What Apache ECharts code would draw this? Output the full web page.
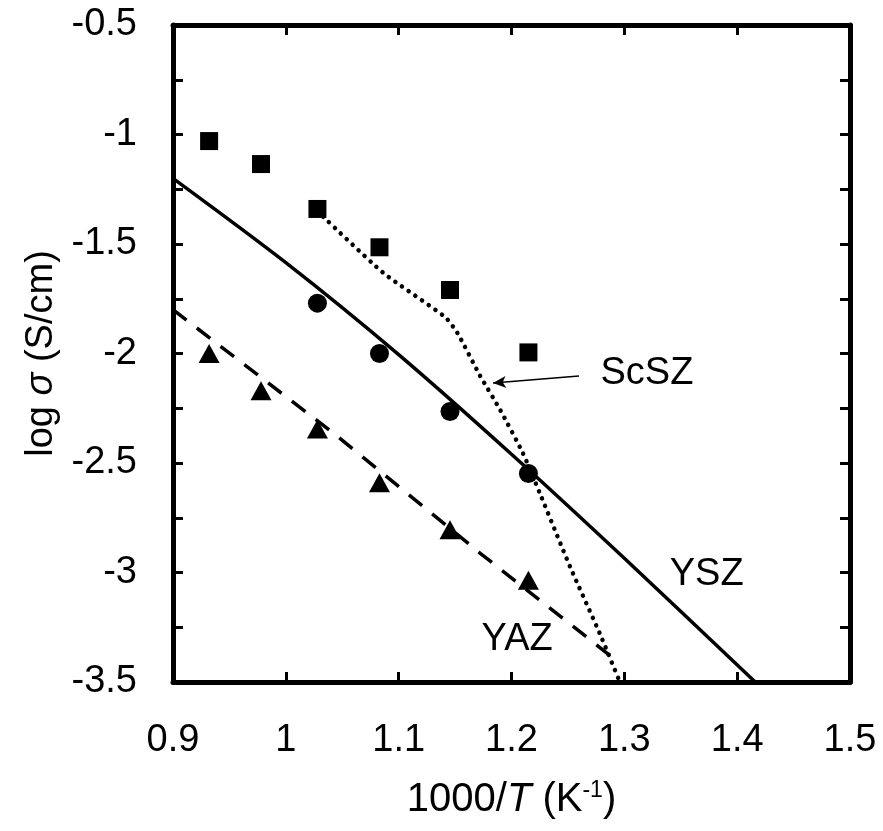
<!DOCTYPE html>
<html>
<head>
<meta charset="utf-8">
<script src="https://cdn.jsdelivr.net/npm/echarts@6/dist/echarts.min.js"></script>
<style>
  html, body { margin: 0; padding: 0; background: #fff; }
  #chart { width: 883px; height: 831px; }
</style>
</head>
<body>
<div id="chart"></div>
<script>
// measured points, x = 1000/T (K^-1)
var invT = [0.932, 0.978, 1.028, 1.083, 1.1455, 1.215];
var scszPts = [-1.03, -1.135, -1.34, -1.515, -1.71, -1.995];
var yszX = [1.028, 1.083, 1.1455, 1.215];
var yszPts = [-1.77, -2.0, -2.265, -2.548];
var yazPts = [-2.0, -2.17, -2.345, -2.59, -2.805, -3.035];

// fitted curves
var yszLineX = [0.9, 1.0, 1.1, 1.2, 1.3, 1.416];
var yszLineY = [-1.2, -1.585, -2.005, -2.46, -2.935, -3.5];
var yazLineX = [0.9, 1.042, 1.172, 1.29];
var yazLineY = [-1.8, -2.363, -2.911, -3.39];
var scszLineX = [1.028, 1.086, 1.141, 1.152, 1.172, 1.19, 1.21, 1.225, 1.252, 1.278, 1.296];
var scszLineY = [-1.35, -1.63, -1.833, -1.906, -2.1, -2.258, -2.454, -2.637, -2.975, -3.276, -3.5];

// text labels
var labelNames = ['ScSZ', 'YSZ', 'YAZ'];
var labelX = [1.32, 1.373, 1.205];
var labelY = [-2.09, -3.011, -3.308];
var arrowFrom = [1.2598, -2.103];
var arrowTo = [1.1836, -2.135];

function zip(xs, ys) {
  return xs.map(function (x, i) { return [x, ys[i]]; });
}

var FONT = 'Liberation Sans, Arial, sans-serif';
var FS = 38;

var chart = echarts.init(document.getElementById('chart'));

var option = {
  animation: false,
  backgroundColor: '#fff',
  textStyle: { fontFamily: FONT, color: '#000' },
  grid: { left: 173, top: 25, right: 33, bottom: 149 },
  xAxis: [
    {
      type: 'value', min: 0.9, max: 1.5, interval: 0.1, position: 'bottom',
      axisLine: { lineStyle: { color: '#000', width: 5 } },
      axisTick: { inside: true, length: 10, lineStyle: { color: '#000', width: 3 } },
      axisLabel: { color: '#000', fontSize: FS, fontFamily: FONT, margin: 40, showMinLabel: true, showMaxLabel: true },
      splitLine: { show: false },
      name: '{n|1000/}{i|T}{n| (K}{s|-1}{n|)}',
      nameLocation: 'middle', nameGap: 97,
      nameTextStyle: {
        rich: {
          n: { fontSize: 40, fontFamily: FONT, color: '#000', lineHeight: 42 },
          i: { fontSize: 40, fontFamily: FONT, color: '#000', fontStyle: 'italic', lineHeight: 42 },
          s: { fontSize: 23, fontFamily: FONT, color: '#000', lineHeight: 23, verticalAlign: 'top' }
        }
      }
    },
    {
      type: 'value', min: 0.9, max: 1.5, interval: 0.1, position: 'top',
      axisLine: { lineStyle: { color: '#000', width: 5 } },
      axisTick: { inside: true, length: 10, lineStyle: { color: '#000', width: 3 } },
      axisLabel: { show: false },
      splitLine: { show: false }
    }
  ],
  yAxis: [
    {
      type: 'value', min: -3.5, max: -0.5, interval: 0.25, position: 'left',
      axisLine: { lineStyle: { color: '#000', width: 5 } },
      axisTick: { inside: true, length: 10, lineStyle: { color: '#000', width: 3 } },
      axisLabel: {
        color: '#000', fontSize: FS, fontFamily: FONT, margin: 36,
        showMinLabel: true, showMaxLabel: true,
        formatter: function (v) {
          return Math.abs(v * 2 - Math.round(v * 2)) < 1e-6 ? String(v) : '';
        }
      },
      splitLine: { show: false },
      name: '{n|log }{i|σ}{n| (S/cm)}',
      nameLocation: 'middle', nameGap: 112, nameRotate: 90,
      nameTextStyle: {
        rich: {
          n: { fontSize: FS, fontFamily: FONT, color: '#000' },
          i: { fontSize: FS, fontFamily: FONT, color: '#000', fontStyle: 'italic' }
        }
      }
    },
    {
      type: 'value', min: -3.5, max: -0.5, interval: 0.25, position: 'right',
      axisLine: { lineStyle: { color: '#000', width: 5 } },
      axisTick: { inside: true, length: 10, lineStyle: { color: '#000', width: 3 } },
      axisLabel: { show: false },
      splitLine: { show: false }
    }
  ],
  series: [
    {
      // YSZ fit
      type: 'line', data: zip(yszLineX, yszLineY), smooth: 0.3,
      showSymbol: false, symbol: 'none',
      lineStyle: { color: '#000', width: 3.5 }, z: 3
    },
    {
      // YAZ fit
      type: 'line', data: zip(yazLineX, yazLineY),
      showSymbol: false, symbol: 'none',
      lineStyle: { color: '#000', width: 3.5, type: [17, 13] }, z: 3
    },
    {
      // ScSZ fit
      type: 'line', data: zip(scszLineX, scszLineY), smooth: 0.2,
      showSymbol: false, symbol: 'none',
      lineStyle: { color: '#000', width: 4.5, type: [0.1, 8], cap: 'round' }, z: 3
    },
    {
      type: 'scatter', data: zip(invT, scszPts), symbol: 'rect', symbolSize: 18,
      itemStyle: { color: '#000', opacity: 1 }, z: 4
    },
    {
      type: 'scatter', data: zip(yszX, yszPts), symbol: 'circle', symbolSize: 19,
      itemStyle: { color: '#000', opacity: 1 }, z: 4
    },
    {
      type: 'scatter', data: zip(invT, yazPts), symbol: 'triangle', symbolSize: [21, 19],
      itemStyle: { color: '#000', opacity: 1 }, z: 4
    },
    {
      // annotations
      type: 'scatter', symbolSize: 0, silent: true,
      itemStyle: { color: '#000', opacity: 1 },
      data: labelNames.map(function (n, i) { return { name: n, value: [labelX[i], labelY[i]] }; }),
      label: {
        show: true, position: 'inside', formatter: '{b}',
        fontSize: FS, fontFamily: FONT, color: '#000', opacity: 1
      },
      markLine: {
        silent: true, animation: false,
        symbol: ['none', 'arrow'], symbolSize: [9, 13],
        label: { show: false },
        lineStyle: { color: '#000', width: 1.6, type: 'solid', opacity: 1 },
        data: [[{ coord: arrowFrom }, { coord: arrowTo }]]
      },
      z: 5
    }
  ]
};

option && chart.setOption(option);
</script>
</body>
</html>
